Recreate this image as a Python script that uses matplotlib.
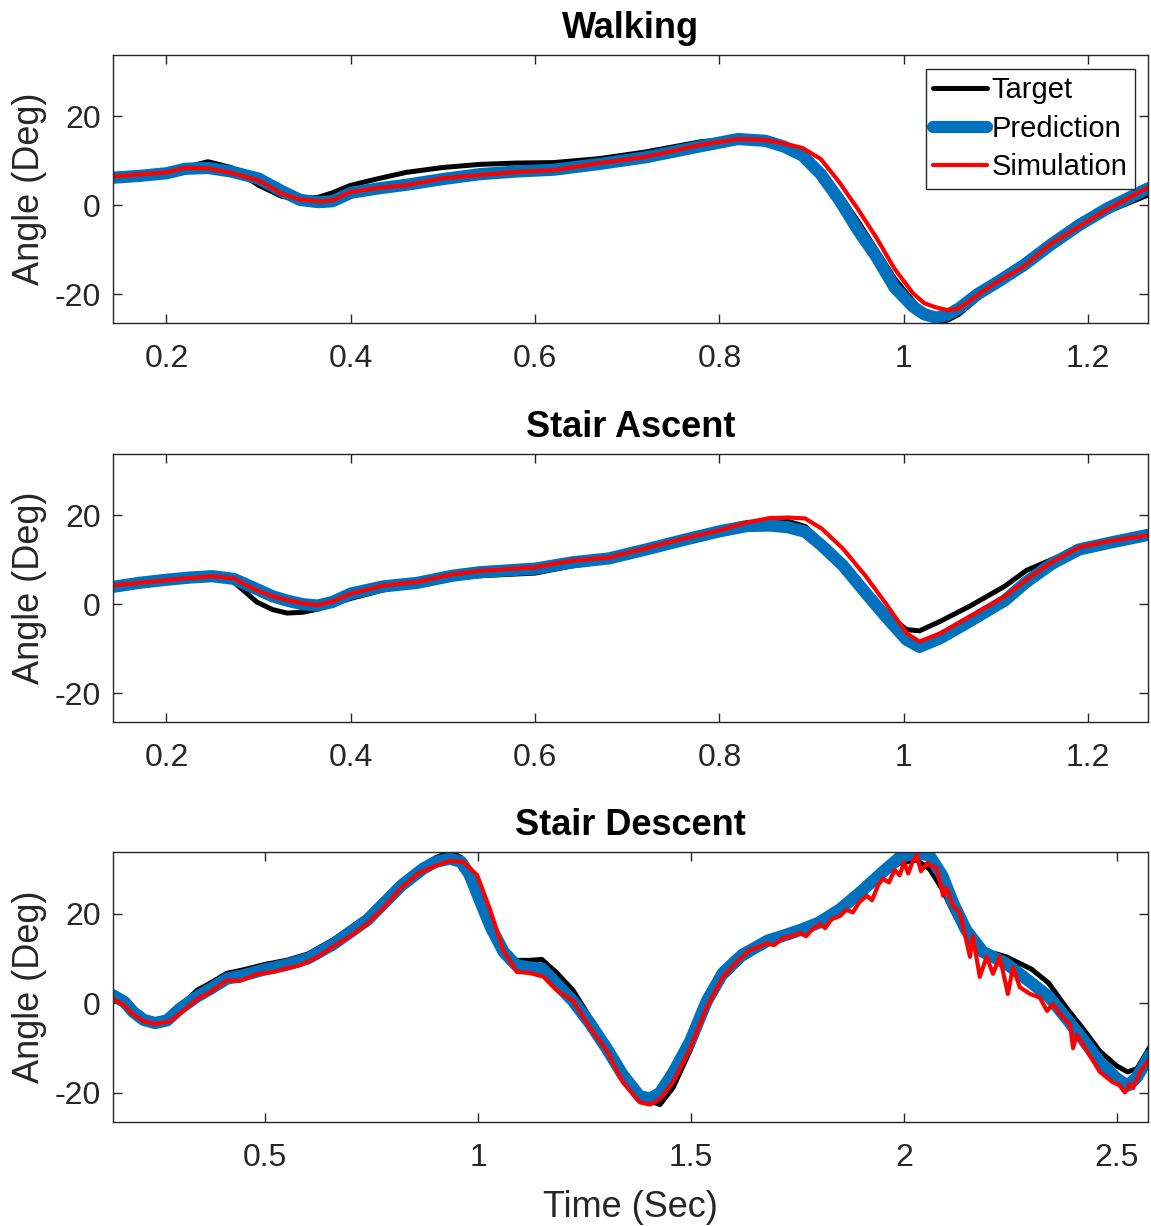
import matplotlib
matplotlib.use("Agg")
import matplotlib.pyplot as plt
from matplotlib.ticker import FuncFormatter


# ------------------------------
# DATA
# ------------------------------

# Walking
t_walk = [0.142, 0.17, 0.2, 0.22, 0.245, 0.27, 0.3, 0.325, 0.345, 0.365,
          0.38, 0.4, 0.43, 0.46, 0.5, 0.54, 0.58, 0.62, 0.67, 0.72,
          0.78, 0.82, 0.85, 0.87, 0.89, 0.91, 0.93, 0.95, 0.97, 0.99,
          1.01, 1.022, 1.035, 1.048, 1.06, 1.08, 1.1, 1.13, 1.16, 1.19,
          1.22, 1.265]
walk_target = [6.5, 6.8, 7.3, 8.5, 9.8, 8.5, 4.5, 2.0, 1.4, 1.8,
               2.8, 4.5, 6.0, 7.4, 8.5, 9.2, 9.5, 9.6, 10.5, 12.0,
               14.3, 15.0, 14.6, 13.6, 11.8, 7.5, 2.5, -3.5, -10.0, -16.5,
               -21.5, -24.3, -26.3, -25.8, -24.5, -21.0, -18.0, -14.0, -9.5, -5.0,
               -1.5, 2.3]
walk_pred = [6.2, 6.6, 7.2, 8.2, 8.4, 7.6, 6.0, 3.2, 1.2, 0.7,
             0.9, 2.8, 3.8, 4.6, 5.9, 7.0, 7.6, 8.0, 9.3, 10.8,
             13.3, 14.9, 14.5, 13.2, 11.2, 7.0, 1.2, -5.5, -11.5, -18.5,
             -22.8, -24.5, -25.3, -24.6, -23.2, -20.0, -17.5, -13.5, -8.8, -4.5,
             -0.8, 3.8]
walk_sim = [6.5, 6.9, 7.4, 8.4, 8.3, 7.3, 5.6, 2.6, 1.3, 0.9,
            1.1, 3.0, 3.9, 4.5, 6.1, 6.8, 7.5, 7.9, 9.5, 10.9,
            13.6, 14.9, 14.7, 13.9, 12.9, 10.4, 5.2, -0.8, -7.2, -14.3,
            -19.8, -22.0, -23.0, -23.6, -23.2, -20.2, -17.4, -13.8, -8.6, -4.8,
            -1.0, 4.0]

# Stair Ascent
t_asc = [0.142, 0.17, 0.2, 0.225, 0.25, 0.273, 0.298, 0.315, 0.331, 0.348,
         0.364, 0.38, 0.4, 0.435, 0.472, 0.51, 0.54, 0.6, 0.64, 0.68,
         0.72, 0.76, 0.8, 0.83, 0.855, 0.875, 0.893, 0.911, 0.934, 0.958,
         0.98, 1.003, 1.017, 1.04, 1.072, 1.11, 1.133, 1.16, 1.19, 1.225, 1.265]
asc_target = [4.2, 4.9, 5.5, 5.9, 6.1, 5.0, 0.5, -1.2, -2.0, -1.8,
              -1.1, 0.0, 1.3, 3.2, 4.5, 5.8, 6.4, 7.0, 8.6, 9.8,
              11.8, 14.0, 16.3, 17.8, 18.5, 18.6, 17.5, 14.0, 9.0, 3.0,
              -2.0, -5.7, -6.0, -3.8, -0.4, 4.1, 7.6, 10.0, 12.6, 14.0, 15.2]
asc_pred = [3.9, 4.8, 5.5, 6.0, 6.3, 5.7, 3.4, 1.8, 0.8, 0.0,
            -0.3, 0.5, 2.4, 4.0, 4.8, 6.4, 7.2, 8.0, 9.4, 10.3,
            12.3, 14.4, 16.4, 17.6, 17.7, 17.3, 16.3, 13.2, 8.7, 2.7,
            -2.7, -8.0, -9.6, -7.6, -3.8, 0.9, 5.0, 9.0, 12.3, 13.9, 15.6]
asc_sim = [4.2, 4.8, 5.4, 5.9, 6.3, 5.8, 3.1, 1.8, 0.9, 0.2,
           -0.2, 0.6, 2.4, 4.2, 5.0, 6.7, 7.5, 8.3, 9.8, 10.5,
           12.6, 14.7, 16.6, 18.4, 19.4, 19.5, 19.3, 17.0, 12.5, 6.5,
           0.3, -6.5, -8.4, -6.5, -2.7, 1.8, 5.5, 9.4, 12.8, 14.3, 15.5]

# Stair Descent
t_desc = [0.143, 0.17, 0.19, 0.215, 0.242, 0.27, 0.3, 0.34, 0.371, 0.41,
          0.45, 0.5, 0.55, 0.6, 0.66, 0.74, 0.82, 0.87, 0.9, 0.934,
          0.96, 0.98, 1.0, 1.03, 1.06, 1.09, 1.12, 1.15, 1.185, 1.223,
          1.263, 1.303, 1.34, 1.38, 1.405, 1.427, 1.458, 1.498, 1.537, 1.575,
          1.62, 1.68, 1.72, 1.76, 1.8, 1.85, 1.9, 1.95, 1.99, 2.03,
          2.06, 2.09, 2.115, 2.145, 2.185, 2.24, 2.3, 2.34, 2.38, 2.42,
          2.46, 2.5, 2.525, 2.547, 2.577]
desc_target = [2.0, 0.3, -2.0, -3.8, -4.4, -3.6, -0.8, 2.9, 4.5, 6.7,
               7.5, 8.7, 9.6, 11.0, 14.2, 19.5, 27.0, 30.5, 32.5, 33.8,
               32.6, 29.5, 24.5, 16.5, 11.0, 9.6, 9.6, 9.8, 6.8, 2.9,
               -3.2, -9.3, -15.4, -19.9, -21.8, -22.6, -18.8, -10.5, -1.0, 5.5,
               9.8, 13.4, 14.8, 16.3, 18.3, 21.8, 25.8, 29.0, 31.3, 32.0,
               30.0, 25.5, 20.5, 15.5, 11.9, 10.4, 7.6, 4.5, -0.8, -5.6,
               -10.7, -14.0, -15.3, -14.6, -9.8]
desc_pred = [1.8, 0.3, -1.9, -3.7, -4.4, -3.8, -1.2, 1.5, 3.2, 5.5,
             6.3, 7.6, 8.6, 10.0, 13.2, 18.6, 26.3, 30.0, 31.6, 32.3,
             31.6, 28.8, 24.0, 17.0, 11.5, 8.5, 8.0, 7.8, 4.3, 0.5,
             -4.5, -10.2, -16.0, -20.8, -21.2, -20.0, -15.5, -8.5, 0.5, 6.8,
             10.8, 14.0, 15.2, 16.5, 18.0, 21.0, 25.0, 29.3, 32.6, 33.6,
             33.0, 28.5, 22.5, 16.5, 11.5, 8.9, 4.5, 1.5, -3.2, -8.0,
             -13.1, -16.8, -18.4, -16.5, -11.6]

t_desc_sim = [0.143, 0.17, 0.19, 0.215, 0.242, 0.277, 0.308, 0.34, 0.371, 0.41,
              0.441, 0.48, 0.519, 0.55, 0.582, 0.62, 0.66, 0.7, 0.739, 0.78,
              0.817, 0.86, 0.895, 0.934, 0.965, 0.998, 1.028, 1.059, 1.091, 1.12,
              1.153, 1.185, 1.223, 1.263, 1.303, 1.34, 1.38, 1.404, 1.427, 1.458,
              1.498, 1.537, 1.575, 1.61, 1.638, 1.66, 1.678, 1.695, 1.716, 1.735,
              1.756, 1.77, 1.785, 1.803, 1.815, 1.83, 1.85, 1.865, 1.88, 1.895,
              1.913, 1.925, 1.94, 1.951, 1.965, 1.978, 1.99, 2.0, 2.01, 2.02,
              2.03, 2.04, 2.054, 2.068, 2.077, 2.085, 2.092, 2.1, 2.115, 2.131,
              2.146, 2.155, 2.162, 2.178, 2.194, 2.209, 2.225, 2.244, 2.256, 2.272,
              2.296, 2.319, 2.336, 2.35, 2.373, 2.39, 2.397, 2.406, 2.43, 2.46,
              2.49, 2.505, 2.519, 2.53, 2.538, 2.554, 2.577]
desc_sim = [1.0, -0.5, -2.5, -4.0, -4.6, -4.0, -1.7, 0.9, 2.5, 5.1,
            5.0, 6.5, 7.0, 7.8, 8.5, 10.2, 12.7, 15.0, 17.7, 21.5,
            25.5, 29.0, 30.5, 31.8, 31.6, 28.6, 21.0, 11.9, 7.0, 6.8,
            6.0, 2.9, 0.6, -5.5, -10.7, -17.6, -22.1, -22.6, -21.4, -17.6,
            -10.1, -0.9, 5.9, 9.5, 11.9, 12.6, 13.4, 13.0, 14.6, 14.9,
            15.7, 15.0, 16.5, 17.7, 16.8, 18.8, 19.5, 20.9, 20.3, 22.6,
            24.0, 23.0, 26.5, 27.8, 27.0, 29.8, 28.6, 31.5, 29.0, 31.6,
            33.1, 29.5, 31.3, 30.5, 30.2, 27.0, 24.0, 25.8, 21.8, 20.2,
            14.2, 10.4, 15.0, 5.9, 10.4, 6.6, 10.4, 2.1, 8.1, 3.6,
            2.1, 1.3, -1.7, -0.2, -3.2, -4.7, -10.0, -7.0, -10.7, -15.3,
            -17.6, -18.2, -19.9, -18.0, -18.9, -15.4, -12.3]

WALK_TICKS = [0.2, 0.4, 0.6, 0.8, 1.0, 1.2]
DESC_TICKS = [0.5, 1.0, 1.5, 2.0, 2.5]
Y_TICKS = [-20, 0, 20]


# ------------------------------
# STYLE
# ------------------------------

plt.rcParams["font.family"] = ["Liberation Sans", "DejaVu Sans"]
plt.rcParams["axes.unicode_minus"] = False

AX_COLOR = "#262626"
BLUE = "#0072BD"
RED = "#FF0000"


def style_axes(ax, xlim, xticks, title):
    ax.set_xlim(*xlim)
    ax.set_ylim(-26.5, 33.8)
    ax.set_xticks(xticks)
    ax.set_yticks(Y_TICKS)
    ax.xaxis.set_major_formatter(FuncFormatter(lambda v, p: "%g" % v))
    ax.tick_params(direction="in", length=6.5, width=1.0, color=AX_COLOR,
                   labelcolor=AX_COLOR, labelsize=23, top=True, right=True)
    ax.tick_params(axis="x", pad=15)
    ax.tick_params(axis="y", pad=9)
    for s in ax.spines.values():
        s.set_color(AX_COLOR)
        s.set_linewidth(1.0)
    ax.set_title(title, fontsize=26, fontweight="bold", color="black", pad=12)
    ax.set_ylabel("Angle (Deg)", fontsize=26, color=AX_COLOR)
    ax.yaxis.set_label_coords(-0.064, 0.5)


def draw_lines(ax, t_target, target, t_pred, pred, t_sim, sim):
    kw = dict(solid_capstyle="round", solid_joinstyle="round")
    ax.plot(t_target, target, color="black", lw=3.6, label="Target", **kw)
    ax.plot(t_pred, pred, color=BLUE, lw=8.8, label="Prediction", **kw)
    ax.plot(t_sim, sim, color=RED, lw=3.0, label="Simulation", **kw)


# ------------------------------
# FIGURE
# ------------------------------

fig = plt.figure(figsize=(11.51, 12.26), dpi=100)

ax1 = fig.add_axes([0.0982, 0.7365, 0.8992, 0.2186])
ax2 = fig.add_axes([0.0982, 0.4111, 0.8992, 0.2186])
ax3 = fig.add_axes([0.0982, 0.0848, 0.8992, 0.2203])

draw_lines(ax1, t_walk, walk_target, t_walk, walk_pred, t_walk, walk_sim)
style_axes(ax1, (0.142, 1.265), WALK_TICKS, "Walking")

draw_lines(ax2, t_asc, asc_target, t_asc, asc_pred, t_asc, asc_sim)
style_axes(ax2, (0.142, 1.265), WALK_TICKS, "Stair Ascent")

draw_lines(ax3, t_desc, desc_target, t_desc, desc_pred, t_desc_sim, desc_sim)
style_axes(ax3, (0.143, 2.573), DESC_TICKS, "Stair Descent")
ax3.set_xlabel("Time (Sec)", fontsize=26, color=AX_COLOR)
ax3.xaxis.set_label_coords(0.5, -0.25)

leg = ax1.legend(loc="upper right", bbox_to_anchor=(0.9874, 0.948),
                 fontsize=21, frameon=True, fancybox=False, framealpha=1,
                 edgecolor=AX_COLOR, borderpad=0.25, labelspacing=0.36,
                 handlelength=1.85, handletextpad=0.17, borderaxespad=0.0)
leg.get_frame().set_linewidth(1.0)

fig.savefig("out.png", dpi=100)
